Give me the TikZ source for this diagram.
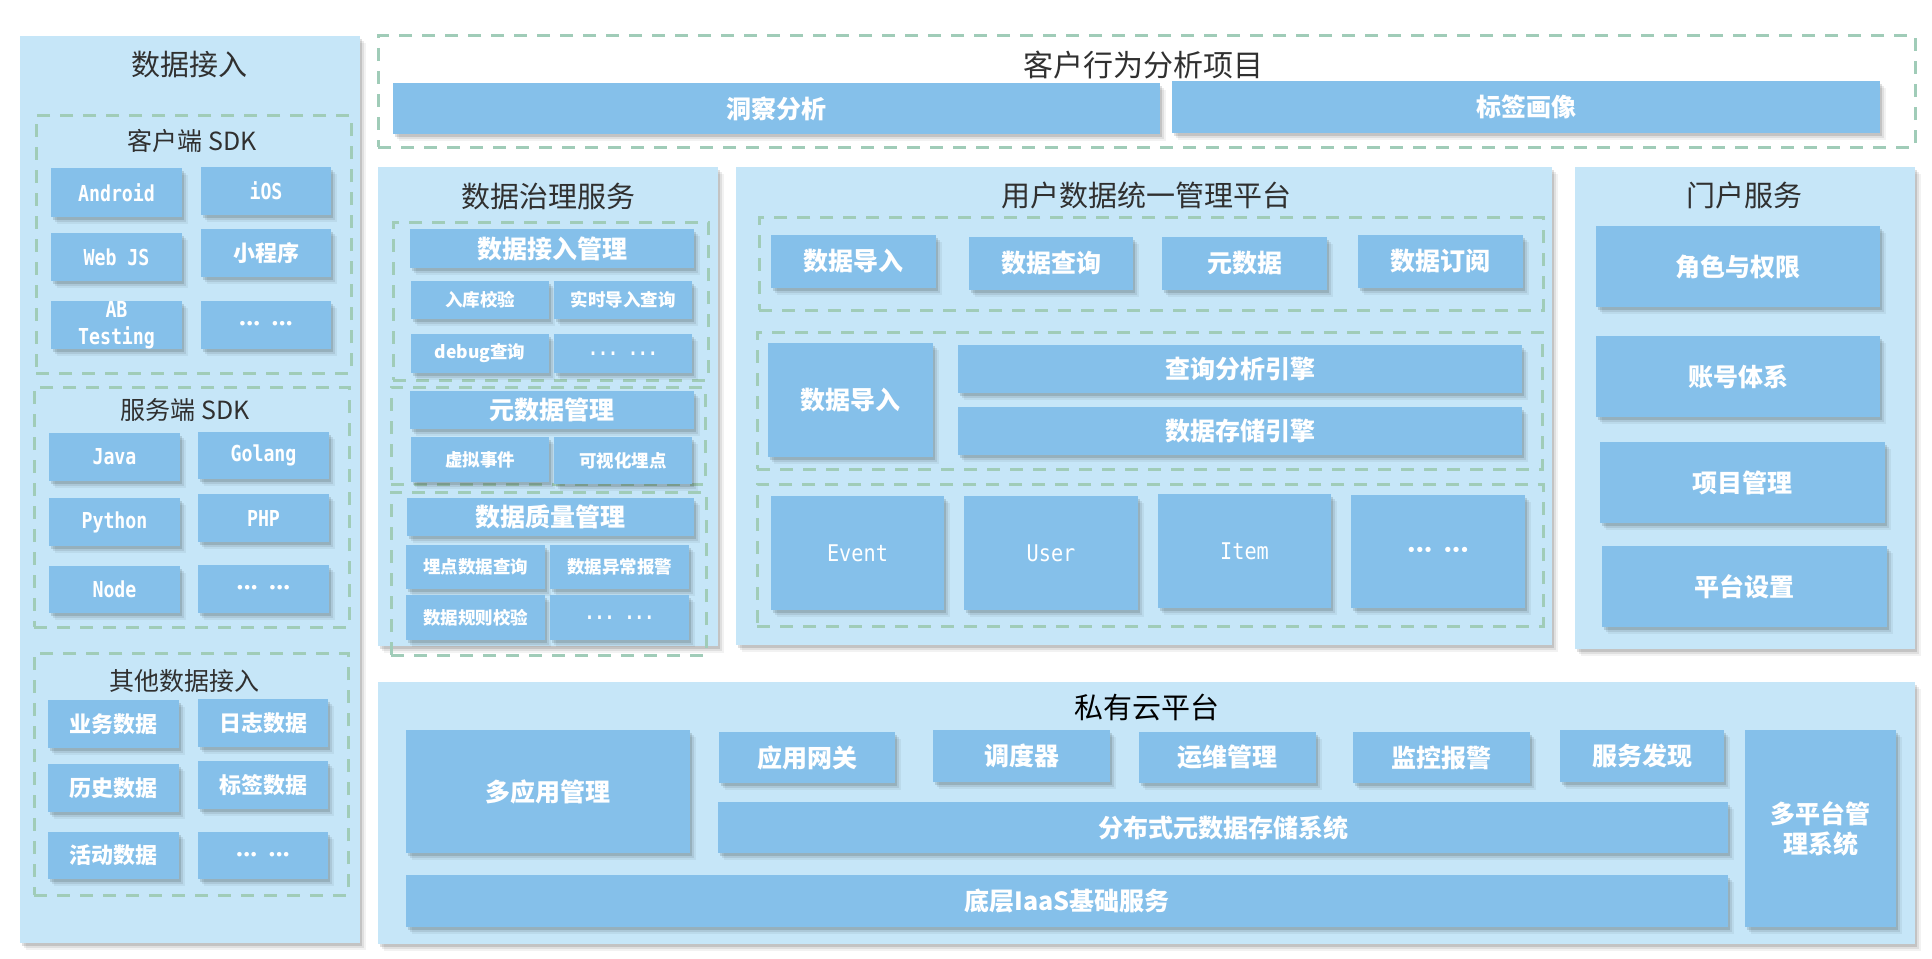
\documentclass[tikz,border=0pt]{standalone}
\usepackage{fontspec}
\setmainfont{Noto Sans CJK SC}
\newfontfamily\mono[FakeStretch=0.83]{DejaVu Sans Mono}
\newfontfamily\monoc[FakeStretch=0.88]{DejaVu Sans Mono}
\newfontfamily\dejab{DejaVu Sans}
\usetikzlibrary{shadows}
\definecolor{panelc}{RGB}{198,230,248}
\definecolor{boxc}{RGB}{133,192,234}
\definecolor{dashc}{RGB}{160,204,184}
\definecolor{titlec}{RGB}{48,48,48}
\tikzset{
  sh/.style={drop shadow={shadow xshift=2pt,shadow yshift=-3pt,fill=black,opacity=0.12},
             drop shadow={shadow xshift=4pt,shadow yshift=-5pt,fill=black,opacity=0.08},
             drop shadow={shadow xshift=6pt,shadow yshift=-7pt,fill=black,opacity=0.05}},
  box/.style={fill=boxc, draw=none, inner sep=0pt, text=white, sh, align=center,
              font=\bfseries\fontsize{22}{27}\selectfont},
  big/.style={font=\bfseries\fontsize{25}{30}\selectfont},
  small/.style={font=\bfseries\fontsize{17.5}{21}\selectfont},
  latin/.style={font=\mono\bfseries\fontsize{22}{27}\selectfont},
  latinc/.style={font=\monoc\fontsize{23}{27}\selectfont},
  dots/.style={font=\dejab\bfseries\fontsize{13}{16}\selectfont},
  panelbox/.style={fill=panelc, draw=none, inner sep=0pt, sh},
  dbox/.style={draw=dashc, line width=3pt, dash pattern=on 13pt off 10pt, fill=none, inner sep=0pt},
  ttl/.style={text=titlec, inner sep=0pt, font=\fontsize{29}{34}\selectfont},
  sttl/.style={text=titlec, inner sep=0pt, font=\fontsize{25}{30}\selectfont},
}
\newcommand\bx[7][box]{\node[#1, minimum width={(#5)-(#3)}, minimum height={(#6)-(#4)}] (#2) at ({((#3)+(#5))/2},{((#4)+(#6))/2}) {#7};}
\newcommand\tridots{•\kern-1.2pt•\kern-1.2pt•\hspace{10pt}•\kern-1.2pt•\kern-1.2pt•}
\begin{document}
\begin{tikzpicture}[x=1pt,y=-1pt]
\useasboundingbox (0,0) rectangle (1932,958);
% ---------- panels ----------
\bx[panelbox]{P1}{20}{36}{360}{943}{}
\bx[panelbox]{P2}{378}{167}{718}{646}{}
\bx[panelbox]{P3}{736}{167}{1552}{645}{}
\bx[panelbox]{P4}{1575}{167}{1915}{649}{}
\bx[panelbox]{P5}{378}{682}{1915}{944}{}
% ---------- dashed groups ----------
\bx[dbox]{D1}{36}{115}{351}{373}{}
\bx[dbox]{D2}{34}{387}{349}{627}{}
\bx[dbox]{D3}{34}{653}{348}{895}{}
\bx[dbox]{TD}{378}{36}{1915}{147}{}
\bx[dbox]{GD1}{393}{222}{708}{380}{}
\bx[dbox]{GD2}{391}{387}{705}{484}{}
\bx[dbox]{GD3}{391}{492}{706}{655}{}
\bx[dbox]{UA}{759}{217}{1543}{310}{}
\bx[dbox]{UB}{757}{332}{1542}{469}{}
\bx[dbox]{UC}{757}{484}{1543}{626}{}
% ---------- titles ----------
\node[ttl] (t1) at (189,65) {数据接入};
\node[sttl] (t11) at (192,141) {客户端 SDK};
\node[sttl] (t12) at (185,410) {服务端 SDK};
\node[sttl] (t13) at (184,681) {其他数据接入};
\node[ttl, font=\fontsize{30}{34}\selectfont] (t2) at (1143,65) {客户行为分析项目};
\node[ttl] (t3) at (548,197) {数据治理服务};
\node[ttl] (t4) at (1146,195) {用户数据统一管理平台};
\node[ttl] (t5) at (1744,195) {门户服务};
\node[ttl, text=black] (t6) at (1147,707) {私有云平台};
% ---------- left: data access ----------
\bx[box,latin]{android}{51}{168}{182}{217}{Android}
\bx[box,latin]{ios}{201}{167}{331}{215}{iOS}
\bx[box,latin]{webjs}{51}{233}{182}{281}{Web JS}
\bx{mini}{201}{229}{331}{277}{小程序}
\bx[box,latin]{ab}{51}{301}{182}{349}{AB\\Testing}
\bx[box,dots]{cdots}{201}{301}{331}{349}{\tridots}
\bx[box,latin]{java}{49}{433}{180}{481}{Java}
\bx[box,latin]{golang}{198}{432}{329}{479}{Golang}
\bx[box,latin]{python}{49}{498}{180}{546}{Python}
\bx[box,latin]{php}{198}{494}{329}{542}{PHP}
\bx[box,latin]{nodejs}{49}{566}{180}{613}{Node}
\bx[box,dots]{sdots}{198}{565}{329}{613}{\tridots}
\bx{biz}{48}{700}{179}{748}{业务数据}
\bx{logd}{198}{699}{328}{747}{日志数据}
\bx{hist}{48}{764}{179}{812}{历史数据}
\bx{tagd}{198}{761}{328}{809}{标签数据}
\bx{act}{48}{832}{179}{879}{活动数据}
\bx[box,dots]{odots}{198}{832}{328}{879}{\tridots}
% ---------- top project ----------
\bx[box,big]{insight}{393}{83}{1160}{134}{洞察分析}
\bx[box,big]{portrait}{1172}{81}{1880}{133}{标签画像}
% ---------- governance ----------
\bx[box,big]{g1}{410}{229}{694}{268}{数据接入管理}
\bx[box,small]{g11}{411}{281}{549}{319}{入库校验}
\bx[box,small]{g12}{554}{281}{692}{319}{实时导入查询}
\bx[box,small]{g13}{411}{334}{549}{373}{debug查询}
\bx[box,font=\mono\bfseries\fontsize{20}{24}\selectfont]{g14}{554}{334}{692}{373}{...\ ...}
\bx[box,big]{g2}{410}{391}{694}{429}{元数据管理}
\bx[box,small]{g21}{411}{437}{549}{482}{虚拟事件}
\bx[box,small]{g22}{554}{437}{692}{484}{可视化埋点}
\bx[box,big]{g3}{407}{498}{694}{536}{数据质量管理}
\bx[box,small]{g31}{406}{545}{545}{589}{埋点数据查询}
\bx[box,small]{g32}{550}{545}{689}{589}{数据异常报警}
\bx[box,small]{g33}{406}{595}{545}{640}{数据规则校验}
\bx[box,font=\mono\bfseries\fontsize{20}{24}\selectfont]{g34}{550}{595}{689}{640}{...\ ...}
% ---------- user data platform ----------
\bx[box,big]{u1}{771}{235}{936}{288}{数据导入}
\bx[box,big]{u2}{969}{237}{1133}{290}{数据查询}
\bx[box,big]{u3}{1162}{237}{1327}{290}{元数据}
\bx[box,big]{u4}{1358}{235}{1523}{288}{数据订阅}
\bx[box,big]{u5}{768}{343}{933}{457}{数据导入}
\bx[box,big]{u6}{958}{345}{1522}{393}{查询分析引擎}
\bx[box,big]{u7}{958}{407}{1522}{455}{数据存储引擎}
\bx[box,latinc]{u8}{771}{496}{944}{610}{Event}
\bx[box,latinc]{u9}{964}{496}{1138}{610}{User}
\bx[box,latinc]{u10}{1158}{494}{1331}{608}{Item}
\bx[box,dots,font=\dejab\bfseries\fontsize{15}{18}\selectfont]{u11}{1351}{495}{1525}{608}{\tridots}
% ---------- portal ----------
\bx[box,big]{p1}{1596}{226}{1880}{307}{角色与权限}
\bx[box,big]{p2}{1596}{336}{1880}{417}{账号体系}
\bx[box,big]{p3}{1600}{442}{1885}{523}{项目管理}
\bx[box,big]{p4}{1602}{546}{1887}{627}{平台设置}
% ---------- private cloud ----------
\bx[box,big]{c1}{406}{730}{690}{853}{多应用管理}
\bx[box,big]{c2}{719}{732}{895}{783}{应用网关}
\bx[box,big]{c3}{933}{730}{1110}{782}{调度器}
\bx[box,big]{c4}{1139}{732}{1316}{783}{运维管理}
\bx[box,big]{c5}{1353}{732}{1530}{783}{监控报警}
\bx[box,big]{c6}{1560}{730}{1724}{782}{服务发现}
\bx[box,big]{c7}{1745}{730}{1896}{927}{多平台管\\理系统}
\bx[box,big]{c8}{718}{802}{1728}{853}{分布式元数据存储系统}
\bx[box,big]{c9}{406}{875}{1728}{927}{底层IaaS基础服务}
\end{tikzpicture}
\end{document}
